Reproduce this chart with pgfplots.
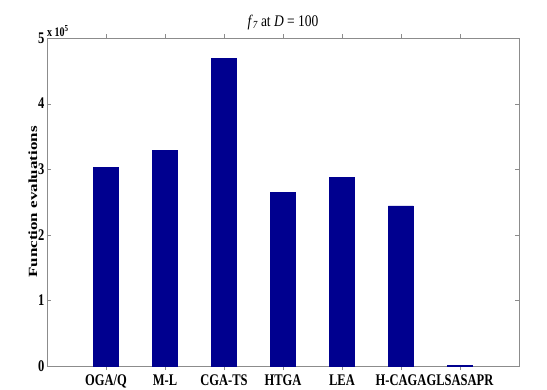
\documentclass[border=0pt]{standalone}
\usepackage{fontspec}
\setmainfont{Liberation Serif}
\usepackage{pgfplots}
\pgfplotsset{compat=1.18}
\definecolor{barblue}{RGB}{0,0,143}
\begin{document}
\begin{tikzpicture}
\useasboundingbox (-47pt,-23pt) rectangle (500pt,366pt);
\begin{axis}[
  at={(0,0)}, anchor=south west,
  scale only axis, width=472pt, height=328pt,
  xmin=0, xmax=8, ymin=0, ymax=500000,
  xtick={1,...,7},
  xticklabels={\scalebox{1}[1.3]{OGA/Q},\scalebox{1}[1.3]{M-L},\scalebox{1}[1.3]{CGA-TS},\scalebox{1}[1.3]{HTGA},\scalebox{1}[1.3]{LEA},\scalebox{1}[1.3]{H-CAGA},\scalebox{1}[1.3]{GLSASAPR}},
  ytick={0,100000,200000,300000,400000,500000},
  yticklabels={\scalebox{1}[1.3]{0},\scalebox{1}[1.3]{1},\scalebox{1}[1.3]{2},\scalebox{1}[1.3]{3},\scalebox{1}[1.3]{4},\scalebox{1}[1.3]{5}},
  scaled y ticks=false,
  tick align=inside, tick pos=both, major tick length=4pt,
  axis line style={black!45}, tick style={black!45},
  ticklabel style={font=\fontsize{12.5}{15}\selectfont\bfseries},
  xticklabel style={yshift=-1pt},
  yticklabel style={xshift=1pt},
  ylabel={\scalebox{1.36}[1]{Function evaluations}},
  ylabel style={font=\fontsize{12.5}{15}\selectfont\bfseries, yshift=-6pt},
  title={\fontsize{13.5}{15}\selectfont\scalebox{1}[1.2]{\textit{f}\raisebox{-0.35ex}{\fontsize{9}{10}\selectfont\textit{7}} at \textit{D} = 100}},
  title style={yshift=-1pt},
  ybar, bar width=25pt,
  clip=false,
]
\addplot[fill=barblue, draw=barblue] coordinates {
  (1,303000) (2,329000) (3,469000) (4,265000) (5,288000) (6,244000) (7,1500)
};
\node[anchor=south west, inner sep=0pt, font=\fontsize{10}{12}\selectfont\bfseries, yshift=1.5pt] at (rel axis cs:0,1) {\scalebox{1}[1.3]{x 10$^{\mathbf{5}}$}};
\end{axis}
\end{tikzpicture}
\end{document}
